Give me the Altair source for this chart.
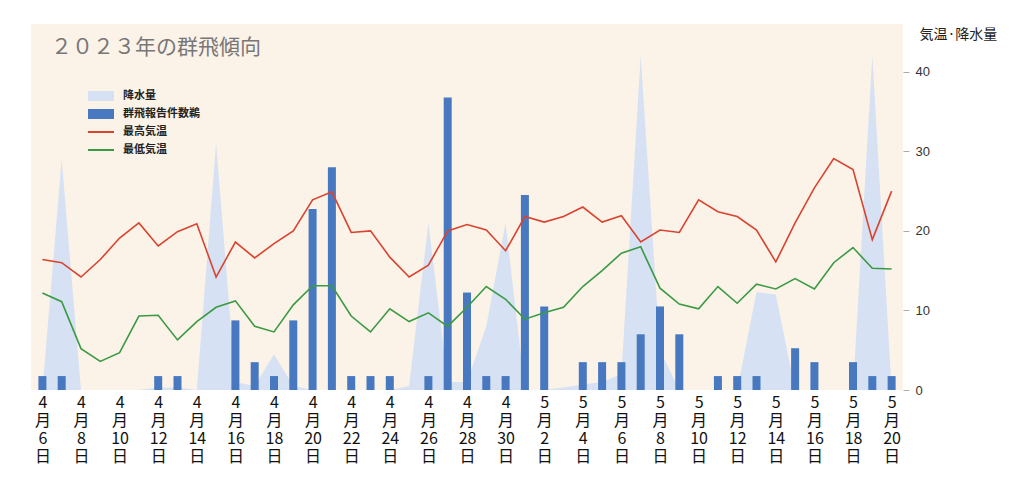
import altair as alt
import pandas as pd

dates = [f"4/{d}" for d in range(6, 31)] + [f"5/{d}" for d in range(1, 21)]

# 群飛報告件数
reports = [1, 1, 0, 0, 0, 0, 1, 1, 0, 0, 5, 2, 1, 5, 13, 16, 1, 1, 1, 0, 1, 21, 7, 1, 1,
           14, 6, 0, 2, 2, 2, 4, 6, 4, 0, 1, 1, 1, 0, 3, 2, 0, 2, 1, 1]
# 降水量
precip = [0, 29, 0, 0, 0, 0, 0.3, 0.3, 0, 31, 1, 0.5, 4.5, 0.5, 0, 0, 0, 0, 0, 0.5, 21, 1, 1, 8, 21,
          0, 0, 0.3, 0.7, 1, 2, 42, 5, 0, 0, 0, 0, 12.3, 12, 0, 0, 0, 0, 42, 0]
# 最高気温
tmax = [16.4, 16, 14.2, 16.4, 19.1, 21, 18.1, 19.9, 20.9, 14.2, 18.6, 16.6, 18.4, 20, 23.9, 24.9,
        19.8, 20, 16.7, 14.2, 15.7, 20, 20.8, 20.1, 17.5, 21.8, 21.1, 21.8, 23, 21.1, 21.9, 18.6,
        20.1, 19.8, 23.9, 22.4, 21.8, 20.1, 16.1, 21, 25.4, 29.1, 27.7, 18.9, 25]
# 最低気温
tmin = [12.2, 11.1, 5.2, 3.6, 4.7, 9.3, 9.4, 6.3, 8.6, 10.4, 11.2, 8.0, 7.3, 10.7, 13.1, 13.1,
        9.3, 7.3, 10.2, 8.6, 9.7, 8.0, 10.4, 13, 11.4, 8.9, 9.7, 10.4, 13, 15, 17.2, 18,
        12.8, 10.8, 10.2, 13, 10.9, 13.3, 12.7, 14, 12.7, 16, 17.9, 15.3, 15.2]

legend_names = ["降水量", "群飛報告件数鵜", "最高気温", "最低気温"]
title_text = "２０２３年の群飛傾向"

df = pd.DataFrame({"date": dates, "reports": reports, "precip": precip,
                   "tmax": tmax, "tmin": tmin})

W, H = 872, 366
tick_dates = dates[::2]

x = alt.X("date:O", sort=dates,
          scale=alt.Scale(type="point", padding=0.59),
          axis=alt.Axis(title=None, values=tick_dates, labelAngle=0, domain=False, ticks=False,
                        labelFontSize=16, labelLineHeight=18, labelColor="#111",
                        labelPadding=4, labelFont="Noto Sans CJK JP", labelBaseline="top",
                        labelExpr="[split(datum.value,'/')[0],'月',split(datum.value,'/')[1],'日']"))

yscale = alt.Scale(domain=[0, 46], nice=False)
yaxis = alt.Axis(orient="right", values=[0, 10, 20, 30, 40], title="気温·降水量",
                 titleAngle=0, titleX=16, titleY=10, titleAlign="left", titleBaseline="middle",
                 titleFontSize=14, titleFontWeight="normal", titleColor="#222",
                 titleFont="Noto Sans CJK JP", grid=False, domain=False,
                 tickColor="#aaa", tickSize=6, labelColor="#333", labelFontSize=13, labelPadding=6)

base = alt.Chart(df)

area = base.mark_area(color="#d6e2f3", opacity=1).encode(
    x=x, y=alt.Y("precip:Q", scale=yscale, axis=yaxis))
bars = base.mark_bar(color="#4878c0", width=8).encode(
    x=x, y=alt.Y("reports:Q", scale=alt.Scale(domain=[0, 46 / 1.75], nice=False), axis=None))
red = base.mark_line(color="#d9432f", strokeWidth=1.6).encode(
    x=x, y=alt.Y("tmax:Q", scale=yscale, axis=None))
green = base.mark_line(color="#3a9a43", strokeWidth=1.6).encode(
    x=x, y=alt.Y("tmin:Q", scale=yscale, axis=None))

# in-plot legend
leg = pd.DataFrame({"name": legend_names, "row": [0, 1, 2, 3],
                    "color": ["#d6e2f3", "#4878c0", "#d9432f", "#3a9a43"],
                    "thick": [10, 10, 2, 2]})
lb = alt.Chart(leg)
leg_marks = lb.mark_rule().encode(
    x=alt.value(57), x2=alt.value(83),
    y=alt.Y("row:O", scale=alt.Scale(range=[63, 135]), axis=None),
    color=alt.Color("color:N", scale=None),
    strokeWidth=alt.StrokeWidth("thick:Q", scale=None))
leg_text = lb.mark_text(align="left", baseline="middle", fontSize=11, fontWeight="bold",
                        font="Noto Sans CJK JP", color="#222").encode(
    x=alt.value(92),
    y=alt.Y("row:O", scale=alt.Scale(range=[63, 135]), axis=None),
    text="name:N")
title = alt.Chart(pd.DataFrame({"t": [title_text]})).mark_text(
    align="left", baseline="middle", fontSize=21, color="#777",
    font="Noto Sans CJK JP").encode(x=alt.value(20), y=alt.value(24), text="t:N")

chart = alt.layer(area, bars, red, green, leg_marks, leg_text, title).resolve_scale(
    y="independent").properties(
    width=W, height=H,
    autosize=alt.AutoSizeParams(type="none"),
    padding={"left": 23, "top": 16, "right": 110, "bottom": 80},
).configure_view(fill="#fbf2e8", stroke=None)

chart.save("out.html", embed_options={"renderer": "svg", "actions": False})
